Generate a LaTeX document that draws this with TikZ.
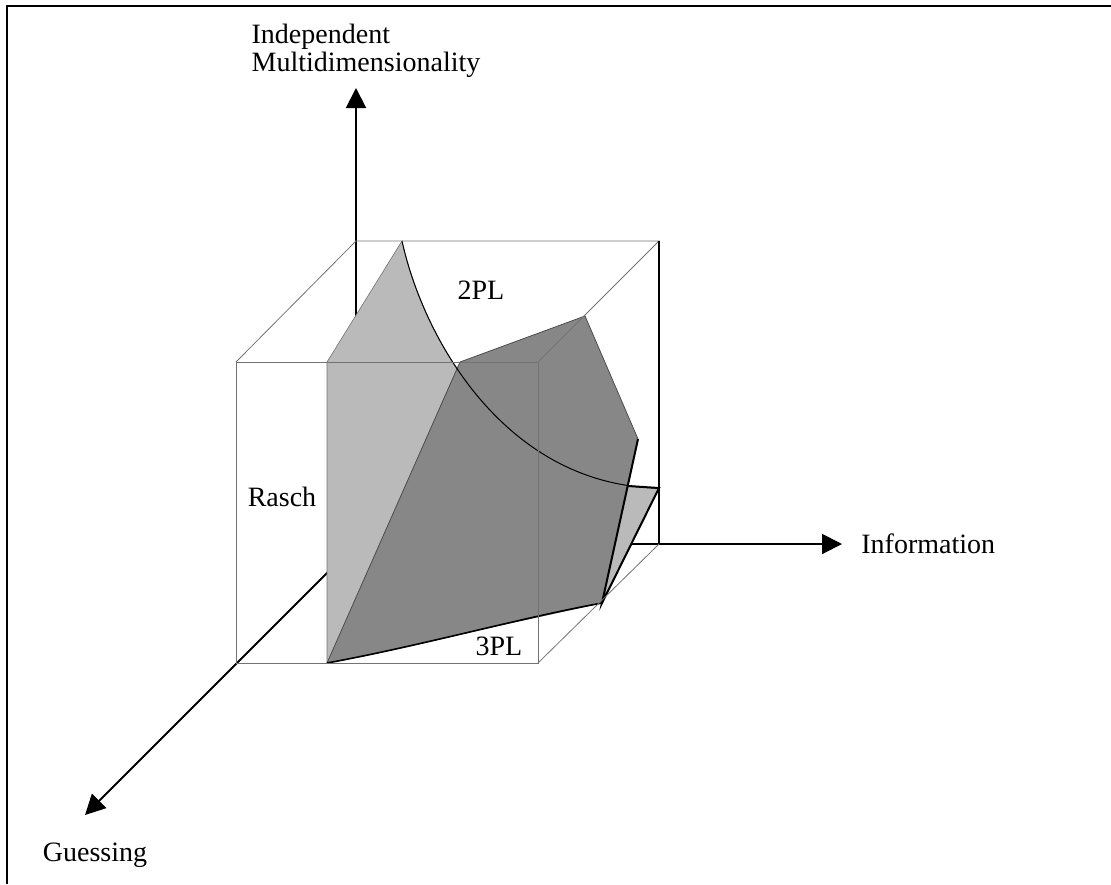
\documentclass[tikz,border=0pt]{standalone}
\usepackage{fontspec}
\setmainfont{Liberation Serif}
\usepackage{xcolor}
\usepackage{tikz}
\usetikzlibrary{arrows.meta, positioning}

\definecolor{raschgray}{gray}{0.73}
\definecolor{plgray}{gray}{0.53}
\definecolor{edgegray}{gray}{0.45}

\begin{document}
\begin{tikzpicture}[x=0.5pt, y=-0.5pt, >={Triangle[length=10pt, width=10pt]},
    font=\fontsize{14}{14}\selectfont,
    lbl/.style={inner sep=0pt},
    axis/.style={line width=1pt, ->},
    edge/.style={edgegray, line width=0.4pt}]
    \useasboundingbox (0,0) rectangle (1111,884);
    \draw[line width=1.2pt] (7,884) -- (7,6) -- (1111,6);

    % cube corners
    \coordinate (ftl) at (236,362);
    \coordinate (ftr) at (538,362);
    \coordinate (fbl) at (236,663);
    \coordinate (fbr) at (538,663);
    \coordinate (btl) at (356,241);
    \coordinate (btr) at (659,241);
    \coordinate (bbl) at (356,544);
    \coordinate (bbr) at (659,544);

    % axis tips
    \coordinate (mtip) at (356,88);
    \coordinate (itip) at (842,544);
    \coordinate (gtip) at (85,815);

    \draw[axis] (bbl) -- (mtip);
    \draw[axis] (bbl) -- (itip);
    \draw[axis] (bbl) -- (gtip);

    % surfaces
    \coordinate (rb) at (327,663);
    \coordinate (rt) at (327,362);
    \coordinate (rk) at (402,241);
    \coordinate (cr) at (659,488);
    \coordinate (dtl) at (460,362);
    \coordinate (dtr) at (585,316);
    \coordinate (drt) at (638,439);
    \coordinate (dmid) at (628,486);
    \coordinate (dbr) at (602,603);

    \fill[raschgray, draw=edgegray, line width=0.3pt] (rb) -- (rt) -- (rk)
        .. controls (425,345) and (510,486) .. (cr) -- (dbr) -- cycle;
    \fill[plgray, draw=black!70, line width=0.4pt] (rb) -- (dtl) -- (dtr) -- (drt) -- (dbr)
        .. controls (520,618) and (420,646) .. (rb) -- cycle;
    \draw[line width=0.5pt] (rk) .. controls (425,345) and (510,486) .. (cr);
    \draw[line width=0.8pt] (dbr) .. controls (520,618) and (420,646) .. (rb);
    \draw[line width=1pt] (drt) -- (dbr) -- (cr) -- (dmid);

    % cube edges
    \draw[edge] (ftl) rectangle (fbr);
    \draw[edge] (ftl) -- (btl) -- (btr) -- (ftr);
    \draw[edge] (fbr) -- (bbr);
    \draw[line width=1pt] (btr) -- (bbr);

    \node[lbl] (rasch) at (282,497) {Rasch};
    \node[lbl] (twopl) at (481,290) {2PL};
    \node[lbl] (threepl) at (499,646) {3PL};
    \node[lbl, right=9.5pt of itip] (info) {Information};
    \node[lbl, below=14pt of gtip, xshift=5pt] (guess) {Guessing};
    \node[lbl, align=left, above=5pt of mtip, xshift=5pt] (multi) {Independent\\Multidimensionality};
\end{tikzpicture}
\end{document}
